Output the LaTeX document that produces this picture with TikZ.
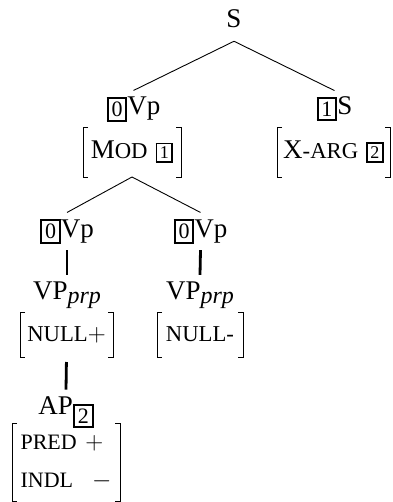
\documentclass[tikz,border=0pt]{standalone}
\usepackage{fontspec}
\setmainfont{Liberation Serif}
\usepackage{graphicx}
\newcommand\tagL[1]{\raisebox{-1.5pt}{\setlength\fboxsep{2.8pt}\setlength\fboxrule{2.1pt}\fbox{\fontsize{22}{22}\selectfont #1}}}
\newcommand\tagS[1]{{\setlength\fboxsep{2.5pt}\setlength\fboxrule{1.8pt}\fbox{\fontsize{18}{18}\selectfont #1}}}
\newcommand\smc[1]{{\fontsize{22.7}{22.7}\selectfont #1}}
\newcommand\prpsub{\raisebox{-4pt}{\fontsize{24}{24}\selectfont\itshape prp}}
\begin{document}
\begin{tikzpicture}[x=1pt,y=-1pt,font=\fontsize{27}{30}\selectfont,
  lbl/.style={anchor=base, inner sep=0pt, outer xsep=0pt, outer ysep=6.5pt},
  avm/.style={inner sep=0pt, outer sep=0pt, align=center},
  edgeline/.style={line width=0.9pt},
  stem/.style={line width=2.8pt},
  brk/.style={line width=0.9pt}]
\useasboundingbox (0,0) rectangle (392,502);
% tree labels
\node[lbl, outer ysep=13pt] (S) at (234,28) {S};
\node[lbl] (vpA) at (133.5,115) {\tagL{0}Vp};
\node[lbl] (sB) at (334.5,115) {\tagL{1}S};
\node[avm, minimum width=98pt, minimum height=50pt] (mod) at (132,152) {M\smc{OD}\hspace{8pt}\tagS{1}};
\node[avm, minimum width=113pt, minimum height=50pt] (xarg) at (333.5,152) {X\smc{-ARG}\hspace{8pt}\tagS{2}};
\node[lbl] (vpC) at (67,237) {\tagL{0}Vp};
\node[lbl] (vpD) at (200.5,237) {\tagL{0}Vp};
\node[lbl] (vppC) at (67,299) {VP\prpsub};
\node[lbl] (vppD) at (200,299) {VP\prpsub};
\node[avm, minimum width=93pt, minimum height=45pt] (nullp) at (66.5,334.5) {\smc{NULL{\fontsize{25}{25}\selectfont$+$}}};
\node[avm, minimum width=86pt, minimum height=45pt] (nullm) at (200,334.5) {\smc{NULL-}};
\node[lbl] (ap) at (66,414) {AP\raisebox{-8pt}{\tagL{2}}};
\node[avm, minimum width=108pt, minimum height=78pt, align=left, font=\fontsize{22}{38}\selectfont] (pred) at (66,462)
  {PRED\hspace{8.5pt}{\fontsize{27}{38}\selectfont$+$}\\INDL\hspace{19pt}{\fontsize{27}{38}\selectfont$-$}};
% connectors
\draw[edgeline] (S.south) -- (vpA.north);
\draw[edgeline] (S.south) -- (sB.north);
\draw[edgeline] (mod.south) -- (vpC.north);
\draw[edgeline] (mod.south) -- (vpD.north);
\draw[stem] (vpC.south) -- (vppC.north);
\draw[stem] (vpD.south) -- (vppD.north);
\draw[stem, shorten <=5pt] (nullp.south) -- (ap.north);
% brackets
\foreach \n in {mod,xarg,nullp,nullm,pred}{
  \draw[brk] ([xshift=5pt]\n.north west) -- (\n.north west) -- (\n.south west) -- ([xshift=5pt]\n.south west);
  \draw[brk] ([xshift=-5pt]\n.north east) -- (\n.north east) -- (\n.south east) -- ([xshift=-5pt]\n.south east);
}
\end{tikzpicture}
\end{document}
